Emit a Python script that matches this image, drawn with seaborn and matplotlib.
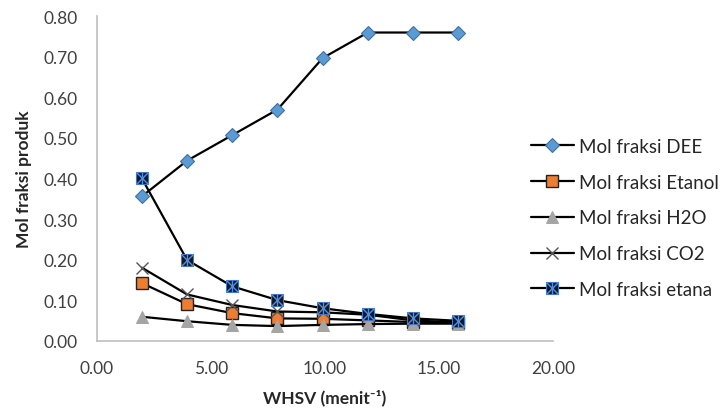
import numpy as np
import pandas as pd
import seaborn as sns
import matplotlib.pyplot as plt
from matplotlib.ticker import FormatStrFormatter

# data
whsv = [1.98, 3.96, 5.94, 7.92, 9.90, 11.88, 13.86, 15.84]
dee = [0.356, 0.444, 0.507, 0.570, 0.697, 0.760, 0.760, 0.760]
etanol = [0.142, 0.090, 0.068, 0.055, 0.054, 0.050, 0.046, 0.044]
h2o = [0.059, 0.048, 0.039, 0.036, 0.039, 0.041, 0.042, 0.042]
co2 = [0.180, 0.114, 0.088, 0.072, 0.070, 0.064, 0.050, 0.045]
etana = [0.400, 0.199, 0.134, 0.100, 0.080, 0.066, 0.055, 0.049]

labels = ['Mol fraksi DEE', 'Mol fraksi Etanol', 'Mol fraksi H2O',
          'Mol fraksi CO2', 'Mol fraksi etana']

sns.set_style('white')
plt.rcParams['font.family'] = ['Lato', 'DejaVu Sans']

df = pd.DataFrame({'whsv': whsv, 'dee': dee, 'etanol': etanol,
                   'h2o': h2o, 'co2': co2, 'etana': etana})

fig = plt.figure(figsize=(7.24, 4.10), dpi=100)
ax = fig.add_axes([0.1336, 0.1666, 0.6304, 0.7912])

line_kw = dict(color='black', linewidth=1.6)
sns.lineplot(data=df, x='whsv', y='dee', ax=ax, marker='D', markersize=7,
             markerfacecolor='#5B9BD5', markeredgecolor='#41719C', markeredgewidth=0.8, **line_kw)
sns.lineplot(data=df, x='whsv', y='etanol', ax=ax, marker='s', markersize=8,
             markerfacecolor='#ED7D31', markeredgecolor='#222222', markeredgewidth=1.0, **line_kw)
sns.lineplot(data=df, x='whsv', y='h2o', ax=ax, marker='^', markersize=8,
             markerfacecolor='#A5A5A5', markeredgecolor='#A5A5A5', **line_kw)
sns.lineplot(data=df, x='whsv', y='co2', ax=ax, marker='x', markersize=9,
             markeredgecolor='#555555', markeredgewidth=1.0, **line_kw)
sns.lineplot(data=df, x='whsv', y='etana', ax=ax, marker='s', markersize=9,
             markerfacecolor='#111827', markeredgecolor='#4472C4', markeredgewidth=0.8, **line_kw)
# blue cross + bar on top of the etana squares
ax.plot(df['whsv'], df['etana'], linestyle='none', marker='x', markersize=8,
        markeredgecolor='#4F8FE0', markeredgewidth=1.0)
ax.plot(df['whsv'], df['etana'], linestyle='none', marker='|', markersize=9,
        markeredgecolor='#4F8FE0', markeredgewidth=1.0)

ax.set_xlim(0, 20)
ax.set_ylim(0, 0.8)
ax.set_xticks([0, 5, 10, 15, 20])
ax.set_yticks(np.arange(0, 0.81, 0.1))
ax.xaxis.set_major_formatter(FormatStrFormatter('%.2f'))
ax.yaxis.set_major_formatter(FormatStrFormatter('%.2f'))
ax.tick_params(axis='both', length=0, labelsize=12.5, colors='#404040')
ax.tick_params(axis='y', pad=14)
ax.tick_params(axis='x', pad=14)

sns.despine(ax=ax)
for s in ['left', 'bottom']:
    ax.spines[s].set_color('#BFBFBF')
    ax.spines[s].set_linewidth(1.2)

ax.set_xlabel('WHSV (menit\u207b\u00b9)', fontsize=12.5, fontweight='bold', va='center')
ax.set_ylabel('Mol fraksi produk', fontsize=12.5, fontweight='bold', va='center')
ax.xaxis.set_label_coords(0.5, -0.173)
ax.yaxis.set_label_coords(-0.16, 0.5)

lines = ax.get_lines()
handles = [lines[0], lines[1], lines[2], lines[3], (lines[4], lines[5], lines[6])]
ax.legend(handles, labels, loc='center left', bbox_to_anchor=(0.733, 0.466),
          bbox_transform=fig.transFigure, frameon=False, fontsize=13.5,
          borderpad=0, borderaxespad=0, labelspacing=1.0, handlelength=2.3,
          handletextpad=0.3)

fig.savefig('out.png', dpi=100)
